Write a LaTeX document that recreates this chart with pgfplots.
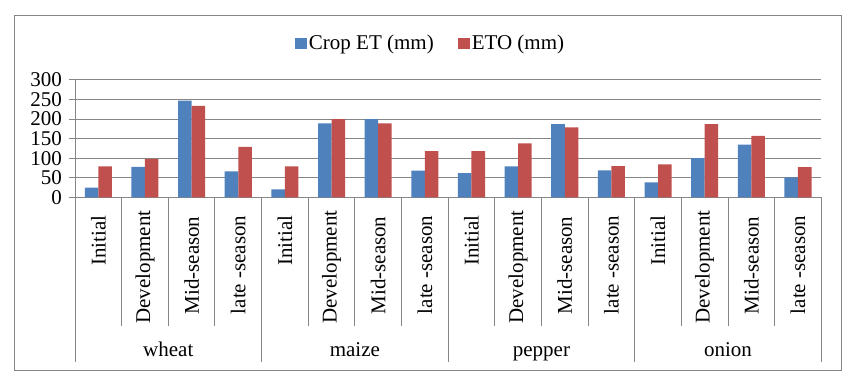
\documentclass[border=0pt]{standalone}
\usepackage{fontspec}
\setmainfont{Liberation Serif}
\usepackage{pgfplots}
\pgfplotsset{compat=1.18}
\definecolor{cblue}{HTML}{4F81BD}
\definecolor{cred}{HTML}{C0504D}
\definecolor{grayc}{HTML}{868686}
\newcommand{\F}{\fontsize{21}{25}\selectfont}
\begin{document}
\begin{tikzpicture}
\path (0pt,0pt) rectangle (863pt,380pt);
\draw[grayc, line width=1pt] (14.3pt,9pt) rectangle (841.3pt,364.7pt);
\begin{axis}[
  at={(75pt,182.7pt)}, anchor=south west,
  scale only axis, width=746.3pt, height=117.3pt,
  xmin=-0.5, xmax=15.5, ymin=0, ymax=300,
  ytick={0,50,...,300}, xtick=\empty,
  axis lines*=left,
  axis line style={draw=grayc, line width=1pt},
  ymajorgrids, grid style={draw=grayc, line width=1pt},
  ytick align=outside, major tick length=6pt,
  ytick style={draw=grayc, line width=1pt},
  tick label style={font=\F},
  /pgf/number format/assume math mode=true,
  yticklabel style={inner sep=0pt, xshift=-7pt},
  clip=false,
  ybar=0pt, bar width=0.29,
  legend style={at={(0.4764,1.315)}, anchor=center, draw=none, fill=none, font=\F,
    legend columns=-1, /tikz/every even column/.append style={column sep=22pt},
    nodes={inner sep=2pt}},
  legend image code/.code={\fill[#1] (0pt,-5.5pt) rectangle (12pt,5.5pt);},
]
\addplot[fill=cblue, draw=none] coordinates {
(0,25) (1,78) (2,247) (3,66)
(4,20) (5,189) (6,200) (7,68)
(8,62) (9,79) (10,187) (11,69)
(12,38) (13,100) (14,135) (15,51)};
\addplot[fill=cred, draw=none] coordinates {
(0,79) (1,98) (2,234) (3,129)
(4,79) (5,200) (6,189) (7,118)
(8,118) (9,138) (10,179) (11,80)
(12,84) (13,187) (14,157) (15,77)};
\legend{Crop ET (mm), ETO (mm)}
\pgfplotsinvokeforeach{0.5,1.5,2.5,4.5,5.5,6.5,8.5,9.5,10.5,12.5,13.5,14.5}{
  \draw[grayc, line width=1pt] (axis cs:#1,0) -- ++(0pt,-128.4pt);
}
\pgfplotsinvokeforeach{-0.5,3.5,7.5,11.5,15.5}{
  \draw[grayc, line width=1pt] (axis cs:#1,0) -- ++(0pt,-164.7pt);
}
\pgfplotsinvokeforeach{0,4,8,12}{
  \node[rotate=90, anchor=east, inner sep=0pt, font=\F] at ([yshift=-18pt]axis cs:#1,0) {Initial};
}
\pgfplotsinvokeforeach{1,5,9,13}{
  \node[rotate=90, anchor=east, inner sep=0pt, font=\F] at ([yshift=-13pt]axis cs:#1,0) {Development};
}
\pgfplotsinvokeforeach{2,6,10,14}{
  \node[rotate=90, anchor=east, inner sep=0pt, font=\F] at ([yshift=-19pt]axis cs:#1,0) {Mid-season};
}
\pgfplotsinvokeforeach{3,7,11,15}{
  \node[rotate=90, anchor=east, inner sep=0pt, font=\F] at ([yshift=-18pt]axis cs:#1,0) {late -season};
}
\node[anchor=base, font=\F] at ([yshift=-159.7pt]axis cs:1.5,0) {wheat};
\node[anchor=base, font=\F] at ([yshift=-159.7pt]axis cs:5.5,0) {maize};
\node[anchor=base, font=\F] at ([yshift=-159.7pt]axis cs:9.5,0) {pepper};
\node[anchor=base, font=\F] at ([yshift=-159.7pt]axis cs:13.5,0) {onion};
\end{axis}
\end{tikzpicture}
\end{document}
